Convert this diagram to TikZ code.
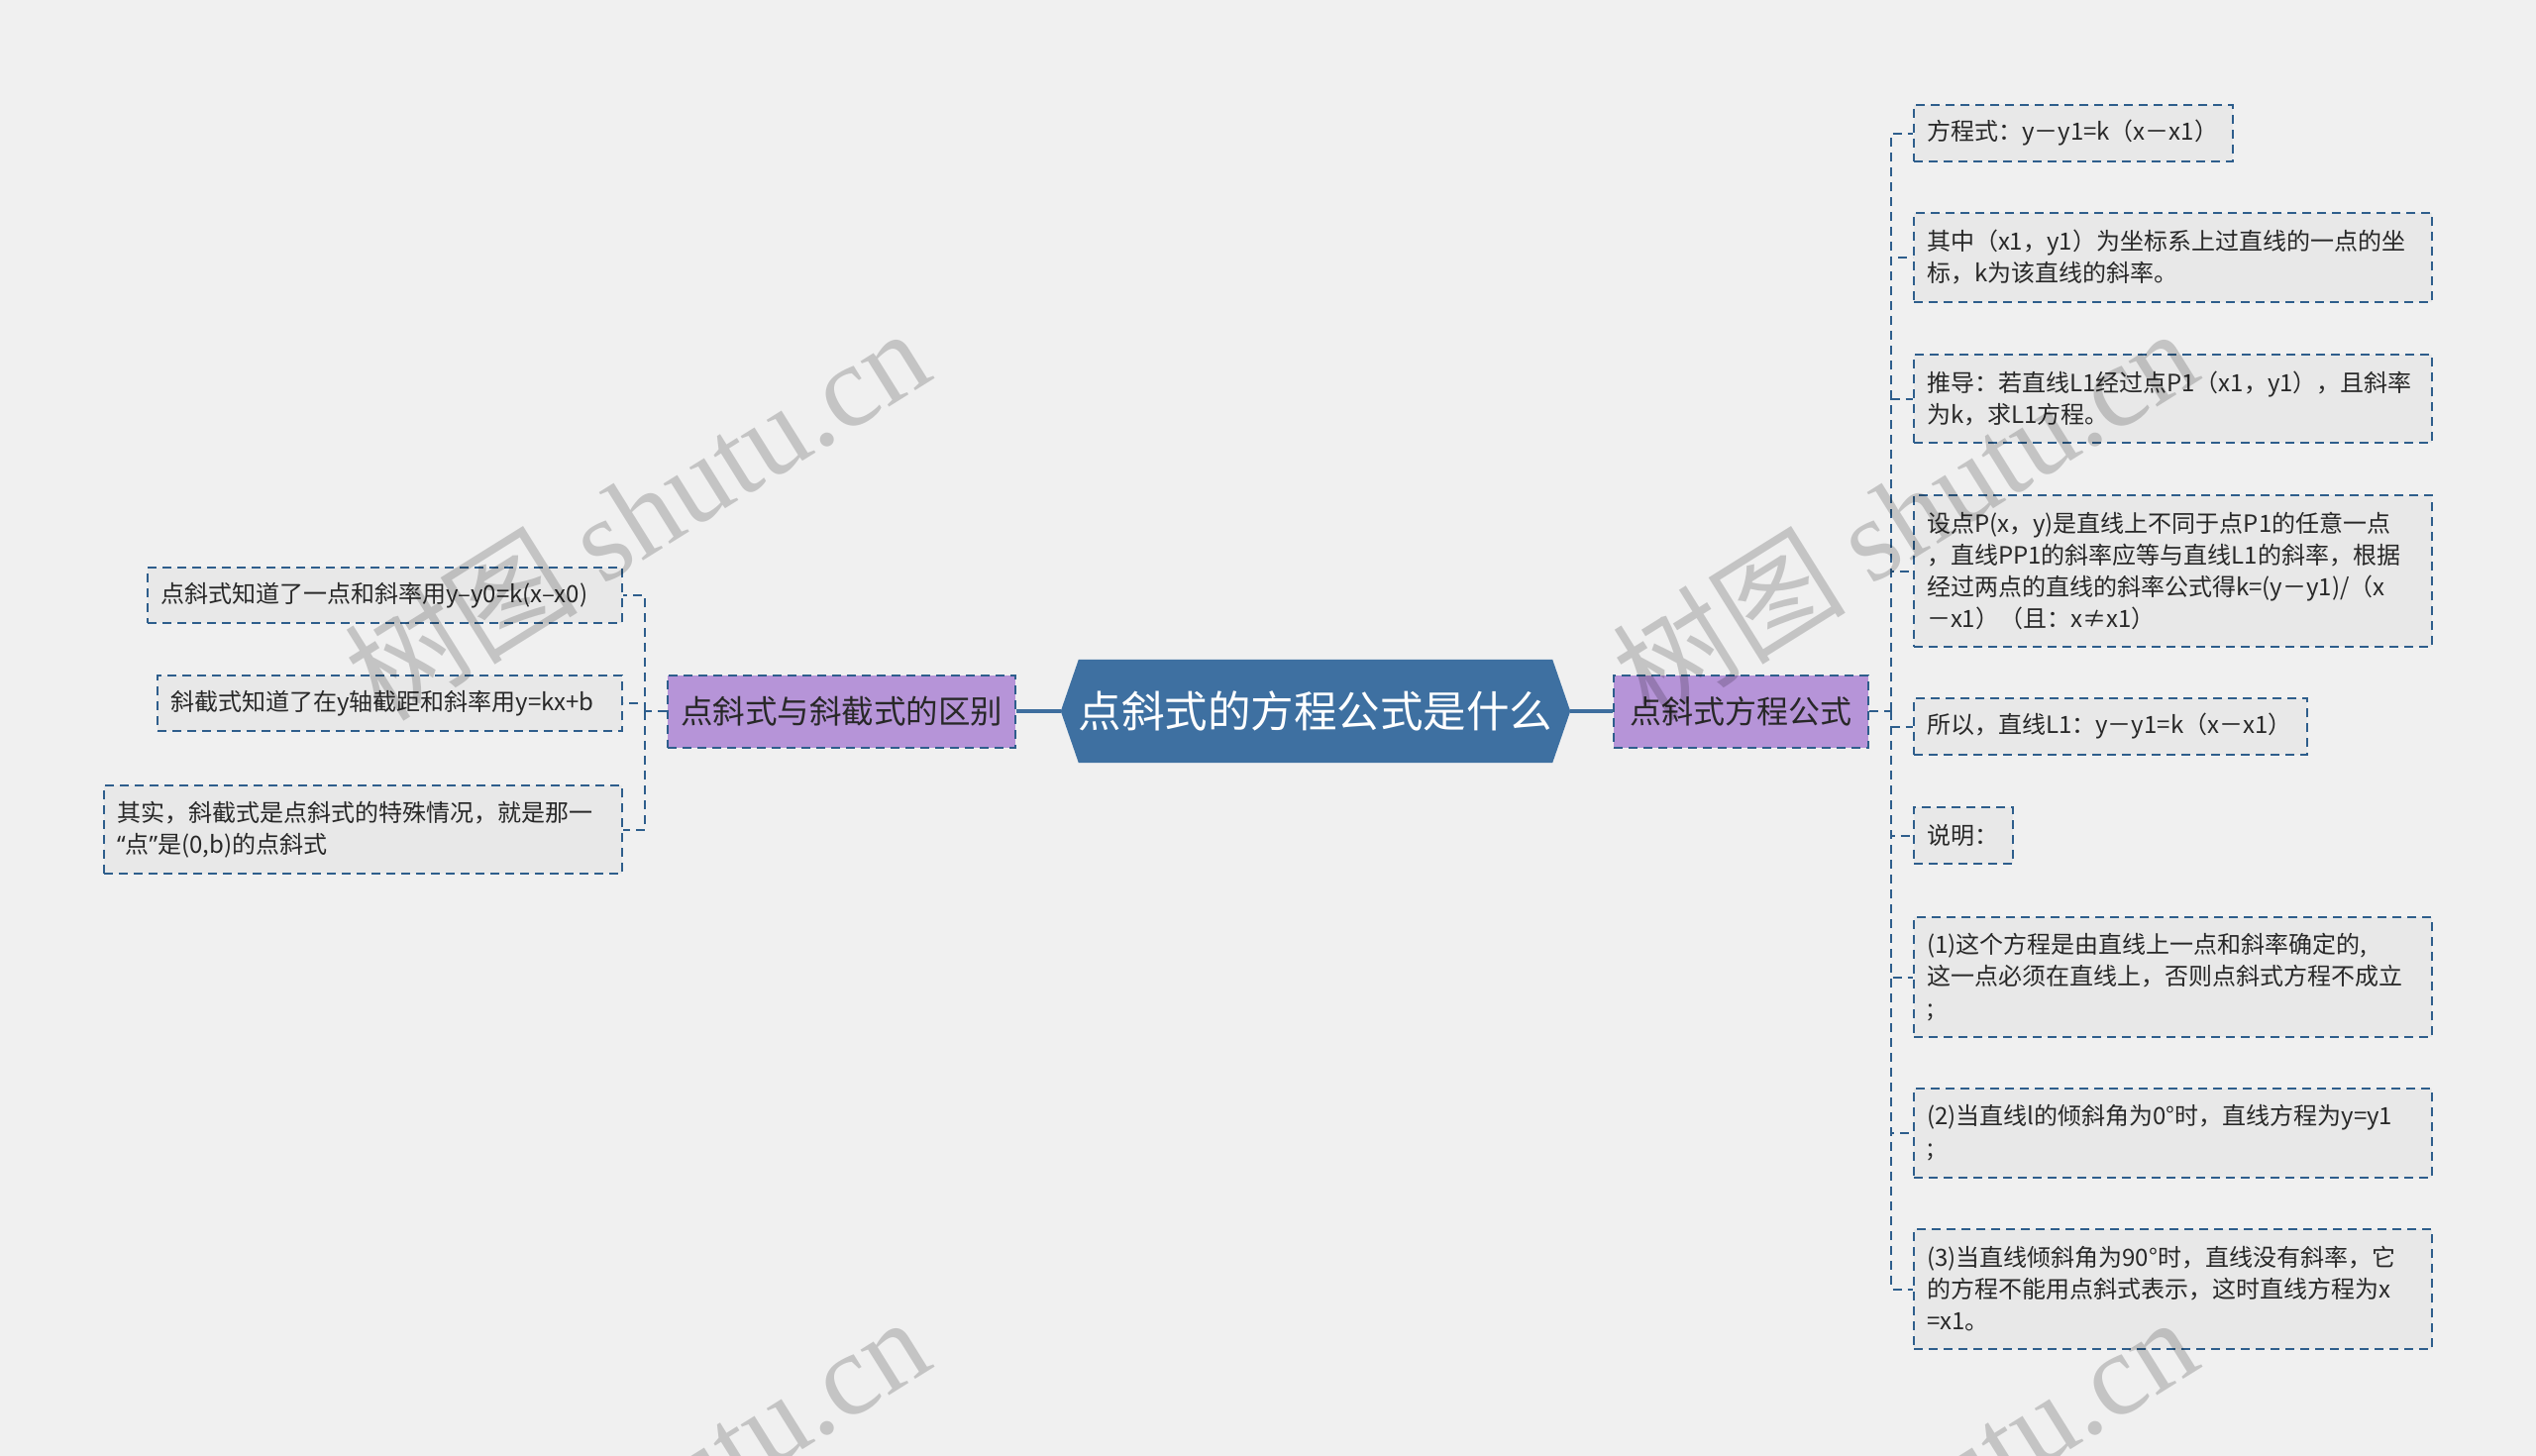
\documentclass[tikz,border=0pt]{standalone}
\usepackage{fontspec}
\setmainfont{Noto Sans CJK SC}
\newfontfamily\wmserif{Liberation Serif}
\newfontfamily\latinq{Noto Sans}
\usetikzlibrary{backgrounds}
\definecolor{bgc}{RGB}{240,240,240}
\definecolor{rootc}{RGB}{62,112,161}
\definecolor{purp}{RGB}{182,148,216}
\definecolor{lineb}{RGB}{46,94,140}
\definecolor{mainl}{RGB}{62,110,158}
\definecolor{leafc}{RGB}{232,232,232}
\definecolor{txtc}{RGB}{40,40,40}
\tikzset{
  leafbox/.style={draw=lineb, line width=2pt, dash pattern=on 9pt off 6pt, fill=leafc,
    inner xsep=13pt, inner ysep=0pt, align=left, text=txtc,
    font=\fontsize{24}{32}\selectfont},
  mainbox/.style={draw=lineb, line width=2pt, dash pattern=on 9pt off 6pt, fill=purp,
    inner sep=0pt, text=txtc, minimum height=73pt},
  conn/.style={draw=lineb, line width=2pt, dash pattern=on 9pt off 6pt},
  mainconn/.style={draw=mainl, line width=3.5pt},
  wm/.style={text=black, text opacity=0.18, inner sep=0pt, rotate=32,
    font=\fontsize{118}{118}\selectfont}
}
\begin{document}
\begin{tikzpicture}[x=1pt,y=-1pt]
\useasboundingbox (0,0) rectangle (2560,1470);
\begin{scope}[on background layer]
\fill[bgc] (0,0) rectangle (2560,1470);
\end{scope}

% root
\node[inner sep=0pt, minimum width=514pt, minimum height=104pt, text=white,
  font=\fontsize{43.5}{43.5}\selectfont] (root) at (1328,718) {点斜式的方程公式是什么};
\begin{scope}[on background layer]
\fill[rootc] (root.west) -- ([xshift=18pt]root.north west) -- ([xshift=-18pt]root.north east)
  -- (root.east) -- ([xshift=-18pt]root.south east) -- ([xshift=18pt]root.south west) -- cycle;
\end{scope}

% main boxes
\node[mainbox, minimum width=351pt, font=\fontsize{32.5}{32.5}\selectfont] (lb) at (849.5,718) {点斜式与斜截式的区别};
\node[mainbox, minimum width=257pt, font=\fontsize{32}{32}\selectfont] (rb) at (1757.5,718) {点斜式方程公式};

\draw[mainconn] (root.west) -- (lb.east);
\draw[mainconn] (root.east) -- (rb.west);

% right children
\node[leafbox, anchor=west, text width=296pt, minimum height=57pt] (c1) at (1931,134.5) {方程式：y－y1=k（x－x1）};
\node[leafbox, anchor=west, text width=497pt, minimum height=90pt] (c2) at (1931,260) {其中（x1，y1）为坐标系上过直线的一点的坐\\标，k为该直线的斜率。};
\node[leafbox, anchor=west, text width=497pt, minimum height=89pt] (c3) at (1931,402.5) {推导：若直线L1经过点P1（x1，y1），且斜率\\为k，求L1方程。};
\node[leafbox, anchor=west, text width=497pt, minimum height=153pt] (c4) at (1931,576.5) {设点P(x，y)是直线上不同于点P1的任意一点\\，直线PP1的斜率应等与直线L1的斜率，根据\\经过两点的直线的斜率公式得k=(y－y1)/（x\\－x1）（且：x≠x1）};
\node[leafbox, anchor=west, text width=371pt, minimum height=57pt] (c5) at (1931,733.5) {所以，直线L1：y－y1=k（x－x1）};
\node[leafbox, anchor=west, text width=74pt, minimum height=57pt] (c6) at (1931,843.5) {说明：};
\node[leafbox, anchor=west, text width=497pt, minimum height=121pt] (c7) at (1931,986.5) {(1)这个方程是由直线上一点和斜率确定的,\\这一点必须在直线上，否则点斜式方程不成立\\;};
\node[leafbox, anchor=west, text width=497pt, minimum height=90pt] (c8) at (1931,1144) {(2)当直线l的倾斜角为0°时，直线方程为y=y1\\;};
\node[leafbox, anchor=west, text width=497pt, minimum height=121pt] (c9) at (1931,1301.5) {(3)当直线倾斜角为90°时，直线没有斜率，它\\的方程不能用点斜式表示，这时直线方程为x\\=x1。};

\coordinate (rs) at (1909,718);
\draw[conn] (rb.east) -- (rs);
\foreach \c in {c1,c2,c3,c4,c5,c6,c7,c8,c9} {\draw[conn] (rs) |- (\c.west);}

% left children
\node[leafbox, anchor=east, text width=453pt, minimum height=56pt] (l1) at (629,601) {点斜式知道了一点和斜率用y–y0=k(x–x0)};
\node[leafbox, anchor=east, text width=443pt, minimum height=56pt] (l2) at (629,710) {斜截式知道了在y轴截距和斜率用y=kx+b};
\node[leafbox, anchor=east, text width=497pt, minimum height=89pt] (l3) at (629,837.5) {其实，斜截式是点斜式的特殊情况，就是那一\\{\latinq “}点{\latinq ”}是(0,b)的点斜式};

\coordinate (ls) at (651,718);
\draw[conn] (lb.west) -- (ls);
\foreach \c in {l1,l2,l3} {\draw[conn] (ls) |- (\c.east);}

% watermarks
\begin{scope}
\clip (0,0) rectangle (2560,1470);
\node[wm] (wm1) at (642,518) {树图 {\wmserif shutu.cn}};
\node[wm] (wm2) at (1922,518) {树图 {\wmserif shutu.cn}};
\node[wm] (wm3) at (642,1516) {树图 {\wmserif shutu.cn}};
\node[wm] (wm4) at (1922,1516) {树图 {\wmserif shutu.cn}};
\end{scope}
\end{tikzpicture}
\end{document}
